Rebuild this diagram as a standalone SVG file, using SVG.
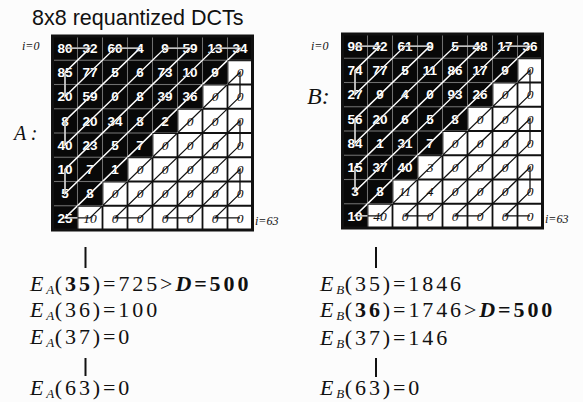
<svg xmlns="http://www.w3.org/2000/svg" xmlns:xlink="http://www.w3.org/1999/xlink" width="583" height="402" viewBox="0 0 583 402">
<style>
.title{font-family:"Liberation Sans",Arial,sans-serif;font-size:21.5px;fill:#111}
.t{font-family:"Liberation Sans",Arial,sans-serif;font-weight:bold;font-size:13.5px;fill:#fff;text-anchor:middle}
.z{font-family:"Liberation Serif","Times New Roman",serif;font-style:italic;font-size:13.5px;fill:#111;text-anchor:middle}
.blk{fill:#080808}
.gl{fill:none;stroke:#111;stroke-width:1.8}
.glw{fill:none;stroke:#888;stroke-width:0.8}
.border{fill:none;stroke:#111;stroke-width:3}
.zzk{fill:none;stroke:#111;stroke-width:1.3}
.zzw{fill:none;stroke:#fff;stroke-width:1.4}
.lbl{font-family:"Liberation Serif","Times New Roman",serif;font-style:italic;font-size:12px;fill:#111}
.big{font-family:"Liberation Serif","Times New Roman",serif;font-style:italic;fill:#111}
.eq{font-family:"Liberation Serif","Times New Roman",serif;font-size:22px;fill:#111;letter-spacing:2.9px}
.it{font-style:italic}
.sub{font-style:italic;font-size:13px;letter-spacing:0.5px}
.b{font-weight:bold}
.bi{font-weight:bold;font-style:italic}
.bar{stroke:#111;stroke-width:2}
</style>
<defs>
<polygon id="tri" points="0,0 200,0 200,24.25 175,24.25 175,48.5 150,48.5 150,72.75 125,72.75 125,97 100,97 100,121.25 75,121.25 75,145.5 50,145.5 50,169.75 25,169.75 25,194 0,194"/>
<clipPath id="triClip"><use xlink:href="#tri"/></clipPath>
<path id="gridlines" d="M25,0V194M50,0V194M75,0V194M100,0V194M125,0V194M150,0V194M175,0V194M0,24.25H200M0,48.5H200M0,72.75H200M0,97H200M0,121.25H200M0,145.5H200M0,169.75H200"/>
<path id="zz" d="M12.5,12.1 L37.5,12.1 L12.5,36.4 L12.5,60.6 L62.5,12.1 L87.5,12.1 L12.5,84.9 L12.5,109.1 L112.5,12.1 L137.5,12.1 L12.5,133.4 L12.5,157.6 L162.5,12.1 L187.5,12.1 L12.5,181.9 L37.5,181.9 L187.5,36.4 L187.5,60.6 L62.5,181.9 L87.5,181.9 L187.5,84.9 L187.5,109.1 L112.5,181.9 L137.5,181.9 L187.5,133.4 L187.5,157.6 L162.5,181.9 L187.5,181.9"/>
</defs>
<rect width="583" height="402" fill="#fcfcfc"/>
<g id="title"><text class="title" x="32" y="25">8x8 requantized DCTs</text></g>

<g id="gridA" transform="translate(52.5,36)">
<rect width="200" height="194" fill="#fff"/>
<use xlink:href="#tri" class="blk"/>
<use xlink:href="#gridlines" class="gl"/>
<use xlink:href="#gridlines" class="glw" clip-path="url(#triClip)"/>
<text y="16.8"><tspan class="t" x="12.5">80</tspan><tspan class="t" x="37.5">32</tspan><tspan class="t" x="62.5">60</tspan><tspan class="t" x="87.5">4</tspan><tspan class="t" x="112.5">9</tspan><tspan class="t" x="137.5">59</tspan><tspan class="t" x="162.5">13</tspan><tspan class="t" x="187.5">34</tspan></text>
<text y="41.1"><tspan class="t" x="12.5">85</tspan><tspan class="t" x="37.5">77</tspan><tspan class="t" x="62.5">5</tspan><tspan class="t" x="87.5">6</tspan><tspan class="t" x="112.5">73</tspan><tspan class="t" x="137.5">10</tspan><tspan class="t" x="162.5">9</tspan><tspan class="z" x="187.5">0</tspan></text>
<text y="65.3"><tspan class="t" x="12.5">20</tspan><tspan class="t" x="37.5">59</tspan><tspan class="t" x="62.5">0</tspan><tspan class="t" x="87.5">8</tspan><tspan class="t" x="112.5">39</tspan><tspan class="t" x="137.5">36</tspan><tspan class="z" x="162.5">0</tspan><tspan class="z" x="187.5">0</tspan></text>
<text y="89.6"><tspan class="t" x="12.5">8</tspan><tspan class="t" x="37.5">20</tspan><tspan class="t" x="62.5">34</tspan><tspan class="t" x="87.5">8</tspan><tspan class="t" x="112.5">2</tspan><tspan class="z" x="137.5">0</tspan><tspan class="z" x="162.5">0</tspan><tspan class="z" x="187.5">0</tspan></text>
<text y="113.8"><tspan class="t" x="12.5">40</tspan><tspan class="t" x="37.5">23</tspan><tspan class="t" x="62.5">5</tspan><tspan class="t" x="87.5">7</tspan><tspan class="z" x="112.5">0</tspan><tspan class="z" x="137.5">0</tspan><tspan class="z" x="162.5">0</tspan><tspan class="z" x="187.5">0</tspan></text>
<text y="138.1"><tspan class="t" x="12.5">10</tspan><tspan class="t" x="37.5">7</tspan><tspan class="t" x="62.5">1</tspan><tspan class="z" x="87.5">0</tspan><tspan class="z" x="112.5">0</tspan><tspan class="z" x="137.5">0</tspan><tspan class="z" x="162.5">0</tspan><tspan class="z" x="187.5">0</tspan></text>
<text y="162.3"><tspan class="t" x="12.5">5</tspan><tspan class="t" x="37.5">8</tspan><tspan class="z" x="62.5">0</tspan><tspan class="z" x="87.5">0</tspan><tspan class="z" x="112.5">0</tspan><tspan class="z" x="137.5">0</tspan><tspan class="z" x="162.5">0</tspan><tspan class="z" x="187.5">0</tspan></text>
<text y="186.6"><tspan class="t" x="12.5">25</tspan><tspan class="z" x="37.5">10</tspan><tspan class="z" x="62.5">0</tspan><tspan class="z" x="87.5">0</tspan><tspan class="z" x="112.5">0</tspan><tspan class="z" x="137.5">0</tspan><tspan class="z" x="162.5">0</tspan><tspan class="z" x="187.5">0</tspan></text>
<rect class="border" width="200" height="194"/>
</g>

<g id="gridB" transform="translate(342.5,34)">
<rect width="200" height="194" fill="#fff"/>
<use xlink:href="#tri" class="blk"/>
<use xlink:href="#gridlines" class="gl"/>
<use xlink:href="#gridlines" class="glw" clip-path="url(#triClip)"/>
<text y="16.8"><tspan class="t" x="12.5">98</tspan><tspan class="t" x="37.5">42</tspan><tspan class="t" x="62.5">61</tspan><tspan class="t" x="87.5">9</tspan><tspan class="t" x="112.5">5</tspan><tspan class="t" x="137.5">48</tspan><tspan class="t" x="162.5">17</tspan><tspan class="t" x="187.5">36</tspan></text>
<text y="41.1"><tspan class="t" x="12.5">74</tspan><tspan class="t" x="37.5">77</tspan><tspan class="t" x="62.5">5</tspan><tspan class="t" x="87.5">11</tspan><tspan class="t" x="112.5">86</tspan><tspan class="t" x="137.5">17</tspan><tspan class="t" x="162.5">9</tspan><tspan class="z" x="187.5">0</tspan></text>
<text y="65.3"><tspan class="t" x="12.5">27</tspan><tspan class="t" x="37.5">9</tspan><tspan class="t" x="62.5">4</tspan><tspan class="t" x="87.5">0</tspan><tspan class="t" x="112.5">93</tspan><tspan class="t" x="137.5">26</tspan><tspan class="z" x="162.5">0</tspan><tspan class="z" x="187.5">0</tspan></text>
<text y="89.6"><tspan class="t" x="12.5">56</tspan><tspan class="t" x="37.5">20</tspan><tspan class="t" x="62.5">6</tspan><tspan class="t" x="87.5">5</tspan><tspan class="t" x="112.5">8</tspan><tspan class="z" x="137.5">0</tspan><tspan class="z" x="162.5">0</tspan><tspan class="z" x="187.5">0</tspan></text>
<text y="113.8"><tspan class="t" x="12.5">84</tspan><tspan class="t" x="37.5">1</tspan><tspan class="t" x="62.5">31</tspan><tspan class="t" x="87.5">7</tspan><tspan class="z" x="112.5">0</tspan><tspan class="z" x="137.5">0</tspan><tspan class="z" x="162.5">0</tspan><tspan class="z" x="187.5">0</tspan></text>
<text y="138.1"><tspan class="t" x="12.5">15</tspan><tspan class="t" x="37.5">37</tspan><tspan class="t" x="62.5">40</tspan><tspan class="z" x="87.5">3</tspan><tspan class="z" x="112.5">0</tspan><tspan class="z" x="137.5">0</tspan><tspan class="z" x="162.5">0</tspan><tspan class="z" x="187.5">0</tspan></text>
<text y="162.3"><tspan class="t" x="12.5">3</tspan><tspan class="t" x="37.5">8</tspan><tspan class="z" x="62.5">11</tspan><tspan class="z" x="87.5">4</tspan><tspan class="z" x="112.5">0</tspan><tspan class="z" x="137.5">0</tspan><tspan class="z" x="162.5">0</tspan><tspan class="z" x="187.5">0</tspan></text>
<text y="186.6"><tspan class="t" x="12.5">10</tspan><tspan class="z" x="37.5">40</tspan><tspan class="z" x="62.5">0</tspan><tspan class="z" x="87.5">0</tspan><tspan class="z" x="112.5">0</tspan><tspan class="z" x="137.5">0</tspan><tspan class="z" x="162.5">0</tspan><tspan class="z" x="187.5">0</tspan></text>
<rect class="border" width="200" height="194"/>
</g>

<g id="connectors">
<g transform="translate(52.5,36)"><use xlink:href="#zz" class="zzk"/><use xlink:href="#zz" class="zzw" clip-path="url(#triClip)"/></g>
<g transform="translate(342.5,34)"><use xlink:href="#zz" class="zzk"/><use xlink:href="#zz" class="zzw" clip-path="url(#triClip)"/></g>
<line class="bar" x1="85.5" y1="247" x2="85.5" y2="268"/>
<line class="bar" x1="85.5" y1="358" x2="85.5" y2="376"/>
<line class="bar" x1="376" y1="247" x2="376" y2="268"/>
<line class="bar" x1="376" y1="358" x2="376" y2="377"/>
</g>

<g id="labels">
<text class="lbl" x="22" y="50">i=0</text>
<text class="lbl" x="255" y="225">i=63</text>
<text class="lbl" x="311" y="50">i=0</text>
<text class="lbl" x="545" y="223">i=63</text>
<text class="big" x="14" y="140" font-size="20">A :</text>
<text class="big" x="307" y="104" font-size="24">B:</text>
</g>

<g id="energyA">
<text class="eq" x="30" y="291"><tspan class="it">E</tspan><tspan class="sub" dy="3">A</tspan><tspan dy="-3">(</tspan><tspan class="b">35</tspan>)=725&gt;<tspan class="bi">D</tspan><tspan class="b">=500</tspan></text>
<text class="eq" x="30" y="317"><tspan class="it">E</tspan><tspan class="sub" dy="3">A</tspan><tspan dy="-3">(36)=100</tspan></text>
<text class="eq" x="30" y="344"><tspan class="it">E</tspan><tspan class="sub" dy="3">A</tspan><tspan dy="-3">(37)=0</tspan></text>
<text class="eq" x="30" y="395"><tspan class="it">E</tspan><tspan class="sub" dy="3">A</tspan><tspan dy="-3">(63)=0</tspan></text>
</g>
<g id="energyB">
<text class="eq" x="320" y="291"><tspan class="it">E</tspan><tspan class="sub" dy="3">B</tspan><tspan dy="-3">(35)=1846</tspan></text>
<text class="eq" x="320" y="317"><tspan class="it">E</tspan><tspan class="sub" dy="3">B</tspan><tspan dy="-3">(</tspan><tspan class="b">36</tspan>)=1746&gt;<tspan class="bi">D</tspan><tspan class="b">=500</tspan></text>
<text class="eq" x="320" y="345"><tspan class="it">E</tspan><tspan class="sub" dy="3">B</tspan><tspan dy="-3">(37)=146</tspan></text>
<text class="eq" x="320" y="395"><tspan class="it">E</tspan><tspan class="sub" dy="3">B</tspan><tspan dy="-3">(63)=0</tspan></text>
</g>
</svg>
